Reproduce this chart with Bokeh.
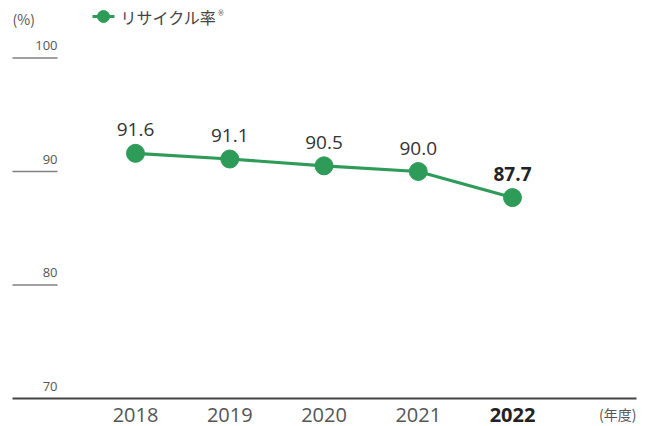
from bokeh.plotting import figure
from bokeh.models import Range1d, ColumnDataSource
from bokeh.core.properties import value
from bokeh.embed import file_html
from bokeh.resources import INLINE

# ---- data ----
years = [2018, 2019, 2020, 2021, 2022]
year_labels = ["2018", "2019", "2020", "2021", "2022"]
rates = [91.6, 91.1, 90.5, 90.0, 87.7]
rate_labels = ["91.6", "91.1", "90.5", "90.0", "87.7"]
y_ticks = [70, 80, 90, 100]
y_tick_labels = ["70", "80", "90", "100"]
series_name = "リサイクル率"
unit_y = "(%)"
unit_x = "(年度)"

# ---- layout helpers (canvas pixels -> data) ----
W, H = 648, 426
X0_PX = 135.0      # canvas x of first year
DX = 94.25         # px per year
Y_BASE_PX = 28.0   # px from bottom for 70
DY = 11.35         # px per unit

x_start = years[0] - X0_PX / DX
x_end = x_start + W / DX
y_start = y_ticks[0] - Y_BASE_PX / DY
y_end = y_start + H / DY


def px_x(px):
    return x_start + px / DX


def px_y(px):
    return y_end - px / DY


GREEN = "#2e9c58"
NUM_FONT = value("Open Sans")
JP_FONT = value("Noto Sans CJK JP")

p = figure(width=W, height=H, output_backend="svg", toolbar_location=None,
           x_axis_type=None, y_axis_type=None,
           x_range=Range1d(x_start, x_end), y_range=Range1d(y_start, y_end),
           min_border=0, outline_line_color=None)
p.grid.visible = False
p.background_fill_color = "white"
p.border_fill_color = "white"

# y tick lines and labels
tick_src = ColumnDataSource(dict(
    x0=[px_x(12)] * 3, x1=[px_x(57)] * 3,
    y=y_ticks[1:]))
p.segment(x0="x0", y0="y", x1="x1", y1="y", source=tick_src,
          line_color="#808080", line_width=1.3)
lab_src = ColumnDataSource(dict(
    x=[px_x(57)] * 4,
    y=[t + 12.5 / DY for t in y_ticks],
    lab=y_tick_labels))
p.text(x="x", y="y", text="lab", source=lab_src, text_font=NUM_FONT,
       text_font_size="13px", text_color="#555555", text_align="right",
       text_baseline="middle")

# baseline
p.segment(x0=[px_x(12)], y0=[y_ticks[0]], x1=[px_x(636)], y1=[y_ticks[0]],
          line_color="#444444", line_width=2)

# series
src = ColumnDataSource(dict(x=years, y=rates, lab=rate_labels,
                            lab_y=[r + 23.5 / DY for r in rates],
                            ylab=year_labels,
                            ylab_y=[px_y(414)] * 5,
                            weight=["normal"] * 4 + ["bold"],
                            col=["#333333"] * 4 + ["#222222"],
                            xcol=["#555555"] * 4 + ["#222222"]))
p.line(x="x", y="y", source=src, line_color=GREEN, line_width=3.2)
p.scatter(x="x", y="y", source=src, size=18, fill_color=GREEN,
          line_color=GREEN)

# data labels
p.text(x="x", y="lab_y", text="lab", source=src, text_font=NUM_FONT,
       text_font_size="19px", text_color="col", text_font_style="weight",
       text_align="center", text_baseline="middle")

# x labels
p.text(x="x", y="ylab_y", text="ylab", source=src, text_font=NUM_FONT,
       text_font_size="20px", text_color="xcol", text_font_style="weight",
       text_align="center", text_baseline="middle")

# unit labels
p.text(x=[px_x(12)], y=[px_y(18.5)], text=[unit_y], text_font=JP_FONT,
       text_font_size="14px", text_color="#555555", text_align="left",
       text_baseline="middle")
p.text(x=[px_x(636)], y=[px_y(413)], text=[unit_x], text_font=JP_FONT,
       text_font_size="14px", text_color="#555555", text_align="right",
       text_baseline="middle")

# legend
p.segment(x0=[px_x(92)], y0=[px_y(16)], x1=[px_x(114)], y1=[px_y(16)],
          line_color=GREEN, line_width=3.2)
p.scatter(x=[px_x(103)], y=[px_y(16)], size=12, fill_color=GREEN,
          line_color=GREEN)
p.text(x=[px_x(120)], y=[px_y(16.5)], text=[series_name], text_font=JP_FONT,
       text_font_size="16px", text_color="#444444", text_align="left",
       text_baseline="middle")
p.text(x=[px_x(217)], y=[px_y(13)], text=["※"], text_font=value("DejaVu Sans"),
       text_font_size="8px", text_color="#777777", text_align="left",
       text_baseline="middle")

open("out.html", "w").write(file_html(p, INLINE))
